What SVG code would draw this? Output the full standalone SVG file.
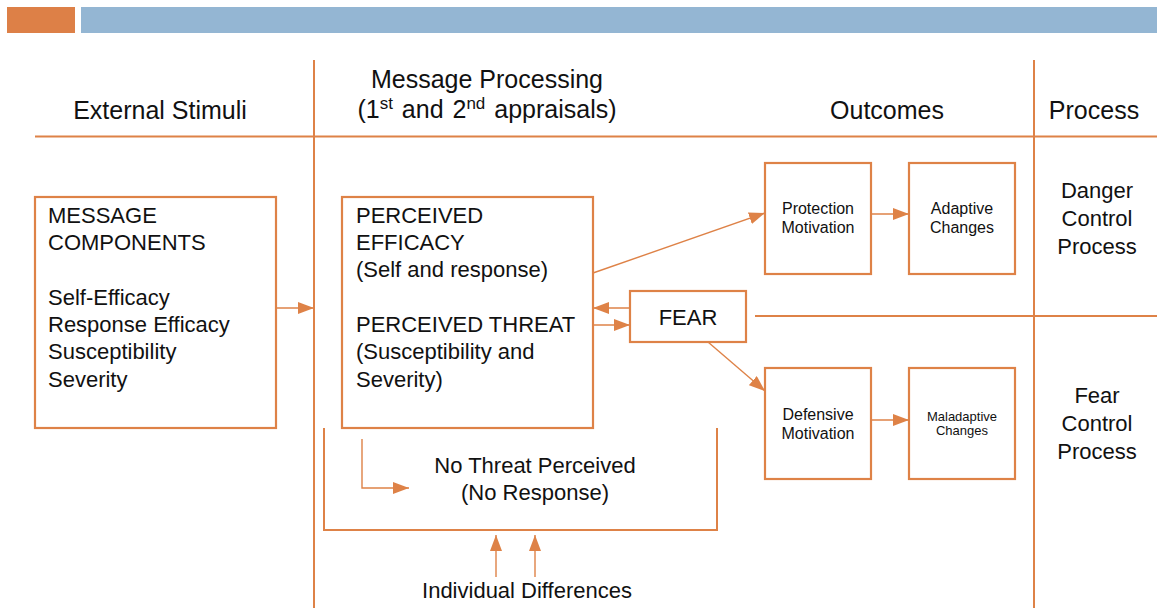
<svg xmlns="http://www.w3.org/2000/svg" width="1157" height="608" viewBox="0 0 1157 608">
<style>
text{font-family:"Liberation Sans",Arial,sans-serif;fill:#111;}
.h{font-size:25px;text-anchor:middle;}
.b{font-size:22px;}
.c{text-anchor:middle;}
.s{font-size:16px;text-anchor:middle;}
.box{fill:#fff;stroke:#DE8247;stroke-width:2.2;}
.grid{stroke:#DE8247;stroke-width:2;fill:none;}
.con{stroke:#DE8247;stroke-width:1.4;fill:none;}
</style>
<defs>
<marker id="ah" markerUnits="userSpaceOnUse" markerWidth="16" markerHeight="12" refX="16" refY="6" orient="auto">
<path d="M0,0 L16,6 L0,12 z" fill="#DE8247"/>
</marker>
</defs>
<rect x="7" y="7" width="68" height="26" fill="#DD8047"/>
<rect x="81" y="7" width="1076" height="26" fill="#94B6D3"/>
<g id="grid">
<line class="grid" x1="35" y1="136.5" x2="1157" y2="136.5"/>
<line class="grid" x1="314" y1="60" x2="314" y2="608"/>
<line class="grid" x1="1034" y1="60" x2="1034" y2="608"/>
<line class="grid" x1="755" y1="316" x2="1157" y2="316"/>
<polyline class="grid" points="324,428 324,530 717,530 717,428"/>
</g>
<g id="headers">
<text class="h" x="160" y="119">External Stimuli</text>
<text class="h" x="487" y="88">Message Processing</text>
<text class="h" x="487" y="118" word-spacing="2">(1<tspan font-size="17" dy="-9">st</tspan><tspan dy="9"> and 2</tspan><tspan font-size="17" dy="-9">nd</tspan><tspan dy="9"> appraisals)</tspan></text>
<text class="h" x="887" y="119">Outcomes</text>
<text class="h" x="1094" y="119">Process</text>
</g>
<g id="message-components">
<rect class="box" x="35" y="197" width="241" height="231"/>
<text class="b" x="48" y="223">MESSAGE</text>
<text class="b" x="48" y="250">COMPONENTS</text>
<text class="b" x="48" y="305">Self-Efficacy</text>
<text class="b" x="48" y="332">Response Efficacy</text>
<text class="b" x="48" y="359">Susceptibility</text>
<text class="b" x="48" y="387">Severity</text>
</g>
<g id="perceived">
<rect class="box" x="342" y="197" width="251" height="231"/>
<text class="b" x="356" y="223">PERCEIVED</text>
<text class="b" x="356" y="250">EFFICACY</text>
<text class="b" x="356" y="277">(Self and response)</text>
<text class="b" x="356" y="332">PERCEIVED THREAT</text>
<text class="b" x="356" y="359">(Susceptibility and</text>
<text class="b" x="356" y="387">Severity)</text>
</g>
<g id="fear">
<rect class="box" x="630" y="291" width="116" height="51"/>
<text class="b c" x="688" y="325">FEAR</text>
</g>
<g id="protection-motivation">
<rect class="box" x="765" y="163" width="106" height="111"/>
<text class="s" x="818" y="214">Protection</text>
<text class="s" x="818" y="233">Motivation</text>
</g>
<g id="adaptive-changes">
<rect class="box" x="909" y="163" width="106" height="111"/>
<text class="s" x="962" y="214">Adaptive</text>
<text class="s" x="962" y="233">Changes</text>
</g>
<g id="defensive-motivation">
<rect class="box" x="765" y="368" width="106" height="111"/>
<text class="s" x="818" y="420">Defensive</text>
<text class="s" x="818" y="439">Motivation</text>
</g>
<g id="maladaptive-changes">
<rect class="box" x="909" y="368" width="106" height="111"/>
<text class="c" x="962" y="421" font-size="13">Maladaptive</text>
<text class="c" x="962" y="435" font-size="13">Changes</text>
</g>
<g id="no-threat">
<text class="b c" x="535" y="473">No Threat Perceived</text>
<text class="b c" x="535" y="500">(No Response)</text>
</g>
<g id="individual-differences">
<text class="b c" x="527" y="598">Individual Differences</text>
</g>
<g id="connectors">
<line class="con" x1="276" y1="308" x2="314" y2="308" marker-end="url(#ah)"/>
<line class="con" x1="593" y1="273" x2="765" y2="213" marker-end="url(#ah)"/>
<line class="con" x1="630" y1="308" x2="593" y2="308" marker-end="url(#ah)"/>
<line class="con" x1="593" y1="325" x2="630" y2="325" marker-end="url(#ah)"/>
<line class="con" x1="708" y1="342" x2="765" y2="391" marker-end="url(#ah)"/>
<line class="con" x1="871" y1="214" x2="909" y2="214" marker-end="url(#ah)"/>
<line class="con" x1="871" y1="420" x2="909" y2="420" marker-end="url(#ah)"/>
<polyline class="con" points="362,439 362,488 409,488" marker-end="url(#ah)"/>
<line class="con" x1="496" y1="577" x2="496" y2="535" marker-end="url(#ah)"/>
<line class="con" x1="535" y1="577" x2="535" y2="535" marker-end="url(#ah)"/>
</g>
<g id="process-labels">
<text class="b c" x="1097" y="198">Danger</text>
<text class="b c" x="1097" y="226">Control</text>
<text class="b c" x="1097" y="254">Process</text>
<text class="b c" x="1097" y="403">Fear</text>
<text class="b c" x="1097" y="431">Control</text>
<text class="b c" x="1097" y="459">Process</text>
</g>
</svg>
